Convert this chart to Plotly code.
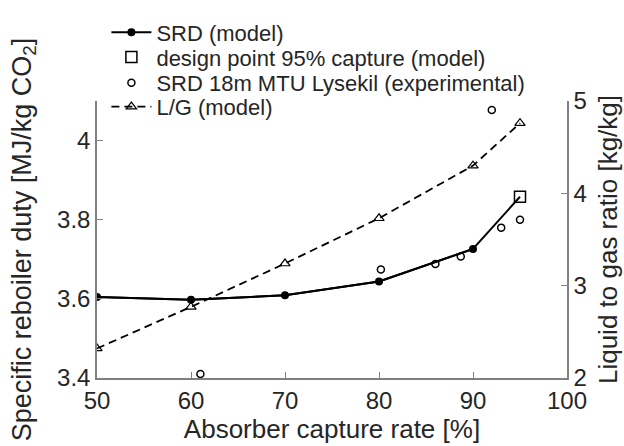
import plotly.graph_objects as go

capture_model = [50, 60, 70, 80, 90, 95]
srd_model = [3.605, 3.598, 3.609, 3.644, 3.726, 3.858]
design_x = [95]
design_srd = [3.858]
exp_capture = [61, 80.2, 86, 88.7, 92, 93, 95]
exp_srd = [3.41, 3.674, 3.688, 3.707, 4.077, 3.78, 3.80]
lg_capture = [50, 60, 70, 80, 90, 95]
lg_ratio = [2.32, 2.77, 3.24, 3.73, 4.30, 4.76]

FONT = "Liberation Sans, Arial, sans-serif"
TXT = "#262626"
AX = "#808080"

fig = go.Figure()
fig.add_trace(go.Scatter(x=capture_model, y=srd_model,
                         mode="lines", line=dict(color="black", width=2),
                         showlegend=False, hoverinfo="skip"))
fig.add_trace(go.Scatter(x=capture_model[:-1], y=srd_model[:-1], name="SRD (model)",
                         mode="lines+markers", line=dict(color="black", width=2),
                         marker=dict(symbol="circle", size=8, color="black"),
                         legend="legend"))
fig.add_trace(go.Scatter(x=design_x, y=design_srd, name="design point 95% capture (model)",
                         mode="markers",
                         marker=dict(symbol="square-open", size=11, color="black",
                                     line=dict(width=1.5)),
                         legend="legend2"))
fig.add_trace(go.Scatter(x=exp_capture, y=exp_srd, name="SRD 18m MTU Lysekil (experimental)",
                         mode="markers",
                         marker=dict(symbol="circle-open", size=7, color="black",
                                     line=dict(width=1.5)),
                         legend="legend3"))
fig.add_trace(go.Scatter(x=lg_capture, y=lg_ratio, name="L/G (model)", yaxis="y2",
                         mode="lines+markers",
                         line=dict(color="black", width=1.8, dash="8px,5px"),
                         marker=dict(symbol="triangle-up-open", size=9, color="black",
                                     line=dict(width=1.2)),
                         legend="legend4"))


def leg(yc):
    return dict(x=0.02, y=yc, xanchor="left", yanchor="middle", bgcolor="rgba(0,0,0,0)",
                font=dict(size=22, color=TXT), itemwidth=40)


fig.update_layout(
    width=624, height=446,
    margin=dict(l=97, r=57, t=87, b=68),
    paper_bgcolor="white", plot_bgcolor="white",
    font=dict(family=FONT, color=TXT, size=22),
    xaxis=dict(range=[50, 100], tickvals=[50, 60, 70, 80, 90, 100], automargin=False,
               ticks="inside", ticklen=6, tickcolor=AX, showline=True, linecolor=AX,
               linewidth=1.5, showgrid=False, zeroline=False,
               tickfont=dict(size=24, color=TXT),
               title=dict(text="Absorber capture rate [%]", font=dict(size=26, color=TXT), standoff=6)),
    yaxis=dict(range=[3.4, 4.1], tickvals=[3.4, 3.6, 3.8, 4.0], ticktext=["3.4", "3.6", "3.8", "4"],
               automargin=False,
               ticks="inside", ticklen=6, tickcolor=AX, showline=True, linecolor=AX,
               linewidth=1.5, showgrid=False, zeroline=False,
               tickfont=dict(size=24, color=TXT),
               title=dict(text="Specific reboiler duty [MJ/kg CO<sub>2</sub>]",
                          font=dict(size=27, color=TXT), standoff=18)),
    yaxis2=dict(range=[2, 5], tickvals=[2, 3, 4, 5], overlaying="y", side="right",
                automargin=False,
                ticks="inside", ticklen=6, tickcolor=AX, showline=True, linecolor=AX,
                linewidth=1.5, showgrid=False, zeroline=False,
                tickfont=dict(size=24, color=TXT),
                title=dict(text="Liquid to gas ratio [kg/kg]", font=dict(size=26, color=TXT), standoff=13)),
    legend=leg(1.2474),
    legend2=leg(1.158),
    legend3=leg(1.0652),
    legend4=leg(0.9793),
    showlegend=True,
)

fig.write_html("out.html")
